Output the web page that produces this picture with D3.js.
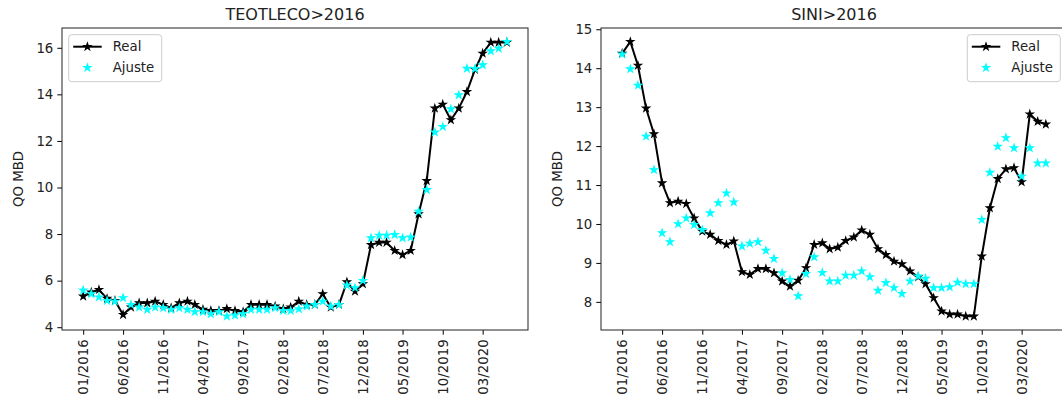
<!DOCTYPE html>
<html>
<head>
<meta charset="utf-8">
<script src="https://cdn.jsdelivr.net/npm/d3@7"></script>
<style>
  body { margin: 0; background: #fff; }
  svg { display: block; font-family: "DejaVu Sans", sans-serif; }
</style>
</head>
<body>
<div id="chart"></div>
<script>
var months = [
  "01/2016","02/2016","03/2016","04/2016","05/2016","06/2016","07/2016","08/2016","09/2016","10/2016","11/2016","12/2016",
  "01/2017","02/2017","03/2017","04/2017","05/2017","06/2017","07/2017","08/2017","09/2017","10/2017","11/2017","12/2017",
  "01/2018","02/2018","03/2018","04/2018","05/2018","06/2018","07/2018","08/2018","09/2018","10/2018","11/2018","12/2018",
  "01/2019","02/2019","03/2019","04/2019","05/2019","06/2019","07/2019","08/2019","09/2019","10/2019","11/2019","12/2019",
  "01/2020","02/2020","03/2020","04/2020","05/2020","06/2020"
];
var tickLabels = ["01/2016","06/2016","11/2016","04/2017","09/2017","02/2018","07/2018","12/2018","05/2019","10/2019","03/2020"];

var teoReal = [5.33, 5.5, 5.61, 5.23, 5.14, 4.54, 4.86, 5.04, 5.04, 5.11,
  4.97, 4.83, 5.04, 5.11, 4.97, 4.76, 4.71, 4.71, 4.79, 4.71,
  4.66, 4.97, 4.97, 4.97, 4.9, 4.79, 4.86, 5.11, 4.97, 4.97,
  5.43, 4.86, 4.97, 5.94, 5.54, 5.86, 7.54, 7.64, 7.64, 7.29,
  7.11, 7.29, 8.86, 10.29, 13.4, 13.57, 12.9, 13.4, 14.11, 15.07,
  15.76, 16.23, 16.23, 16.23];
var teoAjuste = [5.59, 5.43, 5.29, 5.14, 5.11, 5.26, 4.97, 4.86, 4.76, 4.86,
  4.83, 4.76, 4.83, 4.76, 4.66, 4.66, 4.57, 4.66, 4.47, 4.51,
  4.57, 4.76, 4.76, 4.76, 4.83, 4.71, 4.71, 4.78, 4.9, 4.97,
  5.11, 4.9, 4.97, 5.8, 5.69, 6.0, 7.83, 7.94, 7.94, 7.97,
  7.83, 7.86, 8.97, 9.9, 12.37, 12.61, 13.37, 13.97, 15.11, 15.1,
  15.26, 15.86, 15.97, 16.26];

var siniReal = [14.38, 14.68, 14.07, 12.97, 12.31, 11.05, 10.54, 10.58, 10.52, 10.15,
  9.81, 9.73, 9.57, 9.47, 9.56, 8.77, 8.7, 8.85, 8.85, 8.74,
  8.53, 8.4, 8.55, 8.87, 9.47, 9.51, 9.36, 9.40, 9.57, 9.66,
  9.84, 9.73, 9.36, 9.21, 9.04, 8.97, 8.79, 8.64, 8.46, 8.1,
  7.76, 7.68, 7.68, 7.63, 7.63, 9.17, 10.41, 11.16, 11.41, 11.44,
  11.08, 12.82, 12.63, 12.56];
var siniAjuste = [14.36, 13.98, 13.56, 12.25, 11.39, 9.77, 9.54, 10.0, 10.15, 9.98,
  9.85, 10.28, 10.54, 10.79, 10.56, 9.43, 9.5, 9.54, 9.32, 9.11,
  8.74, 8.57, 8.15, 8.72, 9.15, 8.75, 8.53, 8.53, 8.68, 8.68,
  8.79, 8.64, 8.29, 8.49, 8.36, 8.21, 8.53, 8.66, 8.6, 8.36,
  8.36, 8.38, 8.5, 8.46, 8.46, 10.11, 11.32, 11.99, 12.21, 11.95,
  11.22, 11.95, 11.56, 11.56];

var parseMonth = d3.timeParse("%m/%Y");
var dates = months.map(parseMonth);
var tickDates = tickLabels.map(parseMonth);

var W = 1062, H = 406;
var svg = d3.select("#chart").append("svg").attr("width", W).attr("height", H);

var star = d3.symbol().type(d3.symbolStar).size(16);

function drawPanel(p) {
  var top = 28, bottom = 330, left = p.left, right = p.left + 466;
  var g = svg.append("g");

  var t0 = dates[0].getTime(), t1 = dates[dates.length - 1].getTime();
  var padT = (t1 - t0) * 0.05;
  var x = d3.scaleTime()
    .domain([new Date(t0 - padT), new Date(t1 + padT)])
    .range([left, right]);

  var ext = d3.extent(p.real.concat(p.ajuste));
  var padY = (ext[1] - ext[0]) * 0.05;
  var y = d3.scaleLinear()
    .domain([ext[0] - padY, ext[1] + padY])
    .range([bottom, top]);

  // x axis
  var xa = g.append("g")
    .attr("transform", "translate(0," + bottom + ")")
    .call(d3.axisBottom(x).tickValues(tickDates).tickFormat(d3.timeFormat("%m/%Y"))
      .tickSize(4.7).tickSizeOuter(0));
  xa.select(".domain").remove();
  xa.selectAll("line").attr("stroke", "#000").attr("stroke-width", 1);
  xa.selectAll("text")
    .attr("transform", "rotate(-90)")
    .attr("x", -9.4).attr("y", 0).attr("dy", "0.35em")
    .attr("text-anchor", "end")
    .attr("fill", "#222")
    .style("font-size", "13.3px")
    .style("font-family", "DejaVu Sans");

  // y axis
  var ya = g.append("g")
    .attr("transform", "translate(" + left + ",0)")
    .call(d3.axisLeft(y).tickValues(p.yTicks).tickFormat(d3.format("d"))
      .tickSize(4.7).tickPadding(4).tickSizeOuter(0));
  ya.select(".domain").remove();
  ya.selectAll("line").attr("stroke", "#000").attr("stroke-width", 1);
  ya.selectAll("text")
    .attr("fill", "#222")
    .style("font-size", "13.3px")
    .style("font-family", "DejaVu Sans");

  // frame
  g.append("rect")
    .attr("x", left).attr("y", top)
    .attr("width", right - left).attr("height", bottom - top)
    .attr("fill", "none").attr("stroke", "#222").attr("stroke-width", 1);

  // title
  g.append("text")
    .attr("x", (left + right) / 2).attr("y", 20)
    .attr("text-anchor", "middle")
    .attr("fill", "#222")
    .style("font-size", "16px")
    .text(p.title);

  // y label
  g.append("text")
    .attr("transform", "translate(" + (left - 39) + "," + ((top + bottom) / 2) + ") rotate(-90)")
    .attr("text-anchor", "middle")
    .attr("fill", "#222")
    .style("font-size", "13.3px")
    .text("QO MBD");

  // real line
  var line = d3.line()
    .x(function(d, i) { return x(dates[i]); })
    .y(function(d) { return y(d); });
  g.append("path")
    .datum(p.real)
    .attr("d", line)
    .attr("fill", "none")
    .attr("stroke", "#000")
    .attr("stroke-width", 2);

  g.selectAll(".realpt")
    .data(p.real)
    .enter()
    .append("path")
    .attr("d", star)
    .attr("transform", function(d, i) { return "translate(" + x(dates[i]) + "," + y(d) + ")"; })
    .attr("fill", "#000").attr("stroke", "#000").attr("stroke-width", 1.1);

  g.selectAll(".ajpt")
    .data(p.ajuste)
    .enter()
    .append("path")
    .attr("d", star)
    .attr("transform", function(d, i) { return "translate(" + x(dates[i]) + "," + y(d) + ")"; })
    .attr("fill", "#00ffff").attr("stroke", "#00ffff").attr("stroke-width", 1.1);

  // legend
  var lx = p.legendRight ? right - 6.7 - 93 : left + 6.7;
  var lg = g.append("g").attr("transform", "translate(" + lx + "," + (top + 6.7) + ")");
  lg.append("rect")
    .attr("width", 93).attr("height", 47).attr("rx", 3)
    .attr("fill", "#fff").attr("fill-opacity", 0.8)
    .attr("stroke", "#ccc").attr("stroke-width", 1);
  lg.append("line")
    .attr("x1", 4.5).attr("x2", 33).attr("y1", 12).attr("y2", 12)
    .attr("stroke", "#000").attr("stroke-width", 2);
  lg.append("path").attr("d", star).attr("transform", "translate(18.7,12)")
    .attr("fill", "#000").attr("stroke", "#000").attr("stroke-width", 1.1);
  lg.append("path").attr("d", star).attr("transform", "translate(18.7,33)")
    .attr("fill", "#00ffff").attr("stroke", "#00ffff").attr("stroke-width", 1.1);
  lg.append("text").attr("x", 44).attr("y", 16.8)
    .attr("fill", "#222").style("font-size", "13.3px").text("Real");
  lg.append("text").attr("x", 44).attr("y", 37.8)
    .attr("fill", "#222").style("font-size", "13.3px").text("Ajuste");
}

drawPanel({ left: 62, title: "TEOTLECO>2016", real: teoReal, ajuste: teoAjuste,
  yTicks: [4, 6, 8, 10, 12, 14, 16], legendRight: false });
drawPanel({ left: 601, title: "SINI>2016", real: siniReal, ajuste: siniAjuste,
  yTicks: [8, 9, 10, 11, 12, 13, 14, 15], legendRight: true });
</script>
</body>
</html>
